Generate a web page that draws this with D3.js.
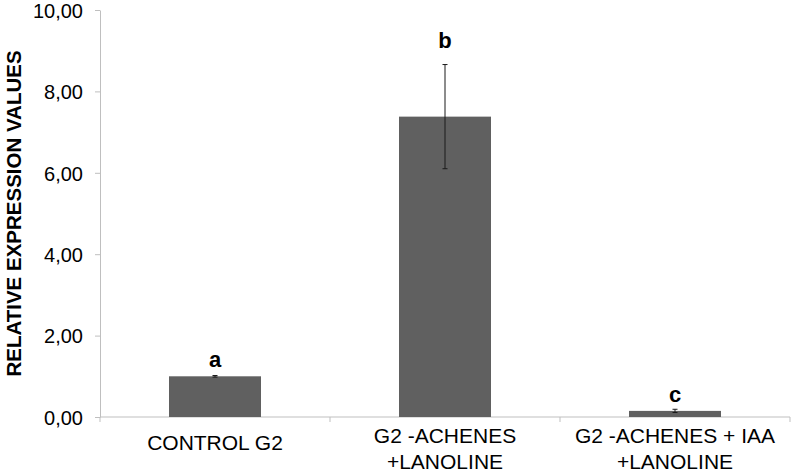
<!DOCTYPE html>
<html>
<head>
<meta charset="utf-8">
<script src="https://cdn.jsdelivr.net/npm/d3@7"></script>
<style>
  body { margin: 0; background: #fff; }
  svg { display: block; }
  text { font-family: "Liberation Sans", Arial, sans-serif; }
</style>
</head>
<body>
<svg id="chart" width="793" height="476"></svg>
<script>
const categories = [["CONTROL G2"], ["G2 -ACHENES", "+LANOLINE"], ["G2 -ACHENES + IAA", "+LANOLINE"]];
const values = [1.00, 7.38, 0.15];
const errors = [0.02, 1.28, 0.04];
const letters = ["a", "b", "c"];
const letterValues = [1.23, 9.07, 0.37];
const yTicks = [0, 2, 4, 6, 8, 10];
const yTitle = "RELATIVE EXPRESSION VALUES";

const svg = d3.select("#chart");
const margin = { left: 100, right: 3, top: 10, bottom: 59 };
const W = 793, H = 476;
const x = d3.scaleBand().domain(d3.range(categories.length)).range([margin.left, W - margin.right]).paddingInner(0.6).paddingOuter(0.3);
const xb = d3.scaleBand().domain(d3.range(categories.length)).range([margin.left, W - margin.right]);
const y = d3.scaleLinear().domain([0, 10]).range([H - margin.bottom, margin.top]);
const fmt = d => d3.format(".2f")(d).replace(".", ",");
const axisColor = "#bfbfbf";

// Y axis
const yAxis = svg.append("g").attr("transform", `translate(${margin.left},0)`)
  .call(d3.axisLeft(y).tickValues(yTicks).tickFormat(fmt).tickSize(5).tickSizeOuter(0));
yAxis.select(".domain").attr("stroke", axisColor);
yAxis.selectAll(".tick line").attr("stroke", axisColor);
yAxis.selectAll(".tick text").attr("font-size", 20).attr("fill", "#000").attr("x", -17).attr("dy", "0.36em")
  .style("font-family", "'Liberation Sans', Arial, sans-serif");

// X axis baseline and boundary ticks
const x0 = y(0);
svg.append("line").attr("x1", margin.left).attr("x2", W - margin.right).attr("y1", x0).attr("y2", x0).attr("stroke", axisColor);
const bounds = d3.range(categories.length + 1).map(i => i < categories.length ? xb(i) : xb(i - 1) + xb.bandwidth());
svg.selectAll(".xtick").data(bounds).enter().append("line")
  .attr("x1", d => d).attr("x2", d => d).attr("y1", x0).attr("y2", x0 + 5).attr("stroke", axisColor);

// Bars
svg.selectAll(".bar").data(values).enter().append("rect")
  .attr("x", (d, i) => x(i)).attr("width", x.bandwidth())
  .attr("y", d => y(d)).attr("height", d => y(0) - y(d))
  .attr("fill", "#606060");

// Error bars
const eg = svg.selectAll(".err").data(values).enter().append("g");
eg.append("line")
  .attr("x1", (d, i) => x(i) + x.bandwidth() / 2).attr("x2", (d, i) => x(i) + x.bandwidth() / 2)
  .attr("y1", (d, i) => y(d - errors[i])).attr("y2", (d, i) => y(d + errors[i]))
  .attr("stroke", "#1a1a1a").attr("stroke-width", 1);
[-1, 1].forEach(s => {
  eg.append("line")
    .attr("x1", (d, i) => x(i) + x.bandwidth() / 2 - 2.5).attr("x2", (d, i) => x(i) + x.bandwidth() / 2 + 2.5)
    .attr("y1", (d, i) => y(d + s * errors[i])).attr("y2", (d, i) => y(d + s * errors[i]))
    .attr("stroke", "#1a1a1a").attr("stroke-width", 1);
});

// Letters
svg.selectAll(".letter").data(letters).enter().append("text")
  .attr("x", (d, i) => x(i) + x.bandwidth() / 2).attr("y", (d, i) => y(letterValues[i]))
  .attr("text-anchor", "middle").attr("font-size", 22).attr("font-weight", "bold").attr("fill", "#000")
  .text(d => d);

// Category labels
categories.forEach((lines, i) => {
  const cx = xb(i) + xb.bandwidth() / 2;
  const lh = 26;
  const firstBase = lines.length === 1 ? 450 : 443;
  const t = svg.append("text").attr("text-anchor", "middle").attr("font-size", 21).attr("fill", "#000");
  lines.forEach((ln, j) => {
    t.append("tspan").attr("x", cx).attr("y", firstBase + j * lh).text(ln);
  });
});

// Y title
svg.append("text").attr("transform", `translate(21,${(y(0) + y(10)) / 2}) rotate(-90)`)
  .attr("text-anchor", "middle").attr("font-size", 20.5).attr("font-weight", "bold").attr("fill", "#000")
  .text(yTitle);
</script>
</body>
</html>
